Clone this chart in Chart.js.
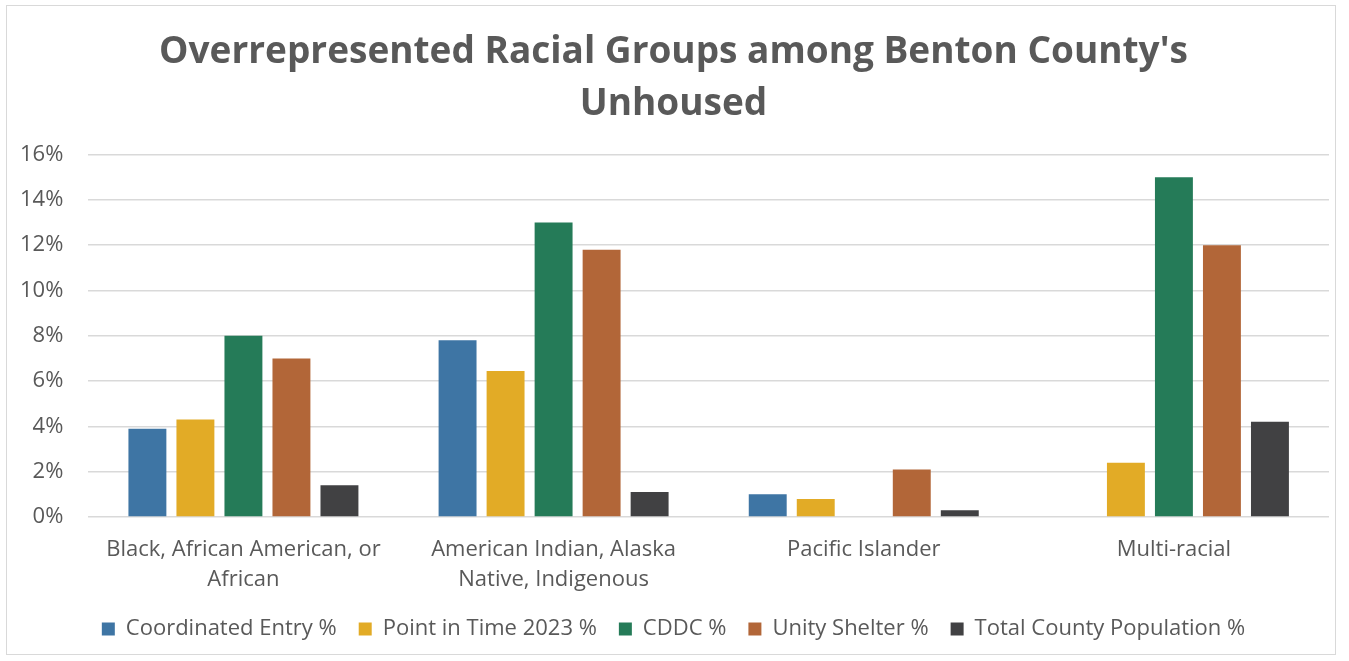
<!DOCTYPE html>
<html>
<head>
<meta charset="utf-8">
<script src="https://cdn.jsdelivr.net/npm/chart.js@4.4.1/dist/chart.umd.min.js"></script>
<style>
  html, body { margin: 0; padding: 0; background: #ffffff; }
  #wrap { position: absolute; left: 6px; top: 5px; width: 1330px; height: 650px; border: 1.5px solid #d9d9d9; box-sizing: border-box; background: #fff; }
  canvas { display: block; }
</style>
</head>
<body>
<div id="wrap"><canvas id="c"></canvas></div>
<script>
const titleLines = ["Overrepresented Racial Groups among Benton County's", "Unhoused"];
const categories = [
  ["Black, African American, or", "African"],
  ["American Indian, Alaska", "Native, Indigenous"],
  "Pacific Islander",
  "Multi-racial"
];
const seriesNames = ["Coordinated Entry %", "Point in Time 2023 %", "CDDC %", "Unity Shelter %", "Total County Population %"];
const coordinatedEntry = [3.9, 7.8, 1.0, 0];
const pointInTime2023 = [4.3, 6.45, 0.8, 2.4];
const cddc = [8.0, 13.0, 0, 15.0];
const unityShelter = [7.0, 11.8, 2.1, 12.0];
const totalCountyPopulation = [1.4, 1.1, 0.3, 4.2];
const seriesColors = ["#3e75a4", "#e2ab26", "#257b58", "#b26638", "#414143"];

const seriesValues = [coordinatedEntry, pointInTime2023, cddc, unityShelter, totalCountyPopulation];
const FONT = "'Open Sans', sans-serif";
const GREY = "#595959";

new Chart(document.getElementById('c'), {
  type: 'bar',
  data: {
    labels: categories,
    datasets: seriesNames.map((name, i) => ({
      label: name,
      data: seriesValues[i],
      backgroundColor: seriesColors[i],
      borderWidth: 0,
      categoryPercentage: 0.774,
      barPercentage: 0.79
    }))
  },
  options: {
    responsive: true,
    maintainAspectRatio: false,
    animation: false,
    layout: { padding: { left: 11, right: 6, top: 21, bottom: 4 } },
    plugins: {
      title: {
        display: true,
        text: titleLines,
        color: GREY,
        font: { family: FONT, size: 37, weight: 'bold', lineHeight: 1.4 },
        padding: { top: 0, bottom: 24 }
      },
      legend: {
        position: 'bottom',
        labels: {
          color: GREY,
          font: { family: FONT, size: 22 },
          boxWidth: 13,
          boxHeight: 13,
          padding: 22
        }
      },
      tooltip: { enabled: false }
    },
    scales: {
      x: {
        grid: { display: false, drawTicks: false },
        border: { display: false },
        ticks: { color: GREY, font: { family: FONT, size: 22, lineHeight: 1.36 }, maxRotation: 0, autoSkip: false, padding: 18 },
        afterFit: s => { s.paddingLeft = 0; s.paddingRight = 0; s.height = 79; }
      },
      y: {
        min: 0,
        max: 16,
        grid: { color: "#d9d9d9", lineWidth: 1.5, drawTicks: false },
        border: { display: false },
        ticks: {
          stepSize: 2,
          color: GREY,
          font: { family: FONT, size: 22 },
          padding: 25,
          callback: v => v + '%'
        },
        afterFit: s => { s.width -= 23; }
      }
    }
  }
});
</script>
</body>
</html>
